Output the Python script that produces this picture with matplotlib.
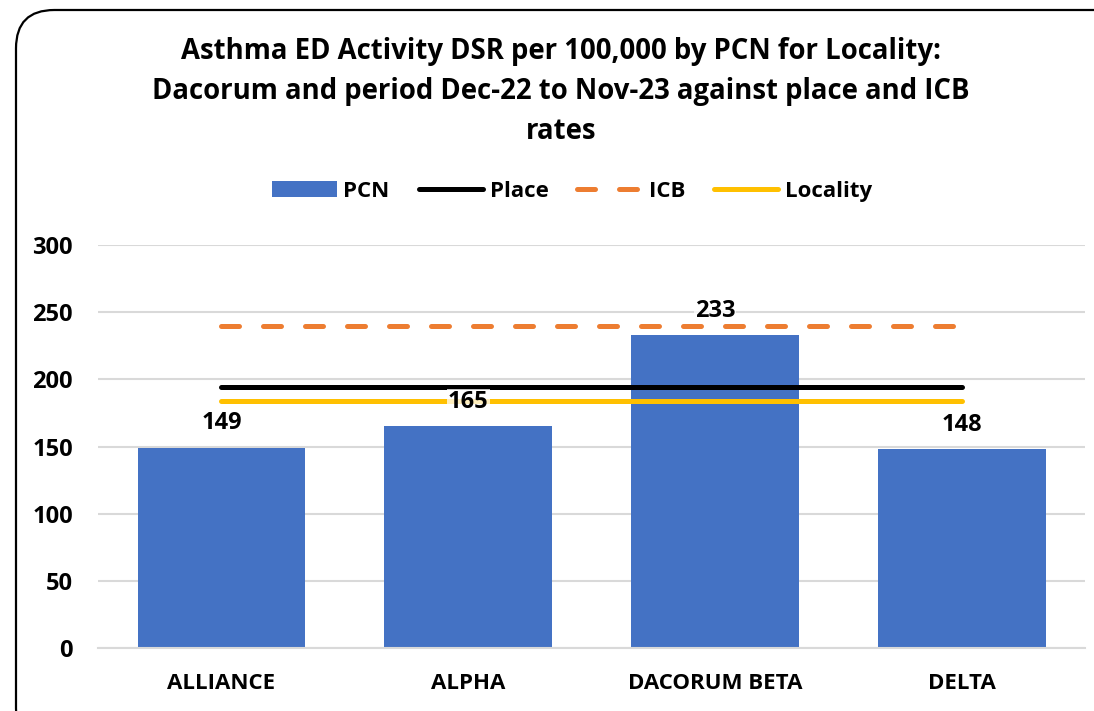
import matplotlib
matplotlib.use("Agg")
import matplotlib.pyplot as plt
from matplotlib.patches import FancyBboxPatch, Patch
from matplotlib.lines import Line2D

plt.rcParams['font.family'] = ['Open Sans', 'DejaVu Sans']

# data
pcns = ["ALLIANCE", "ALPHA", "DACORUM BETA", "DELTA"]
pcn_rate = [149, 165, 233, 148]
place_rate = [194, 194, 194, 194]
icb_rate = [240, 240, 240, 240]
locality_rate = [184, 184, 184, 184]

title = ("Asthma ED Activity DSR per 100,000 by PCN for Locality:\n"
         "Dacorum and period Dec-22 to Nov-23 against place and ICB\n"
         "rates")

BLUE, ORANGE, YELLOW = "#4472C4", "#ED7D31", "#FFC000"
LW = 3.6
DASH = (0, (3.6, 4.8))

fig = plt.figure(figsize=(10.94, 7.11), dpi=100)
ax = fig.add_axes([0.0896, 0.0886, 0.9024, 0.5668])

# rounded border round the chart area
border = FancyBboxPatch((16 / 1094, -0.05), 1.2, 1 - 10 / 711 + 0.05,
                        boxstyle="round,pad=0,rounding_size=0.035",
                        transform=fig.transFigure, fill=False,
                        edgecolor="black", linewidth=1.6, mutation_aspect=1.54)
fig.patches.append(border)

x = list(range(len(pcns)))
ax.bar(x, pcn_rate, width=0.68, color=BLUE, zorder=2)
ax.plot(x, icb_rate, color=ORANGE, linewidth=LW, linestyle=DASH,
        dash_capstyle="round", zorder=3)
ax.plot(x, place_rate, color="black", linewidth=LW, solid_capstyle="round", zorder=3)
ax.plot(x, locality_rate, color=YELLOW, linewidth=LW, solid_capstyle="round", zorder=3)

for xi, v in zip(x, pcn_rate):
    ax.annotate(str(v), (xi, v), xytext=(0, 9), textcoords="offset points",
                ha="center", va="bottom", fontsize=17, fontweight="bold",
                bbox=dict(boxstyle="square,pad=0.05", facecolor="white",
                          edgecolor="none", alpha=0.75), zorder=4)

ax.set_xlim(-0.5, 3.5)
ax.set_ylim(0, 300)
ax.set_yticks(range(0, 301, 50))
ax.set_xticks(x)
ax.set_xticklabels(pcns)
ax.grid(axis="y", color="#D9D9D9", linewidth=1.5, zorder=0)
ax.set_axisbelow(True)
for s in ["top", "right", "left"]:
    ax.spines[s].set_visible(False)
ax.spines["bottom"].set_color("#D9D9D9")
ax.spines["bottom"].set_linewidth(1.5)
ax.tick_params(axis="y", length=0, labelsize=17, pad=18)
ax.tick_params(axis="x", length=0, labelsize=16, pad=18)
for lab in ax.get_xticklabels() + ax.get_yticklabels():
    lab.set_fontweight("bold")

fig.text(0.513, 0.948, title, ha="center", va="top", fontsize=19.8,
         fontweight="bold", linespacing=1.5)

handles = [Patch(facecolor=BLUE),
           Line2D([], [], color="black", linewidth=LW, solid_capstyle="round"),
           Line2D([], [], color=ORANGE, linewidth=LW, linestyle=DASH,
                  dash_capstyle="round"),
           Line2D([], [], color=YELLOW, linewidth=LW, solid_capstyle="round")]
fig.legend(handles, ["PCN", "Place", "ICB", "Locality"], loc="center",
           bbox_to_anchor=(0.523, 0.731), ncol=4, frameon=False,
           prop=dict(size=16, weight="bold"), handlelength=2.9,
           handletextpad=0.3, columnspacing=1.3)

fig.savefig("out.png", dpi=100)
